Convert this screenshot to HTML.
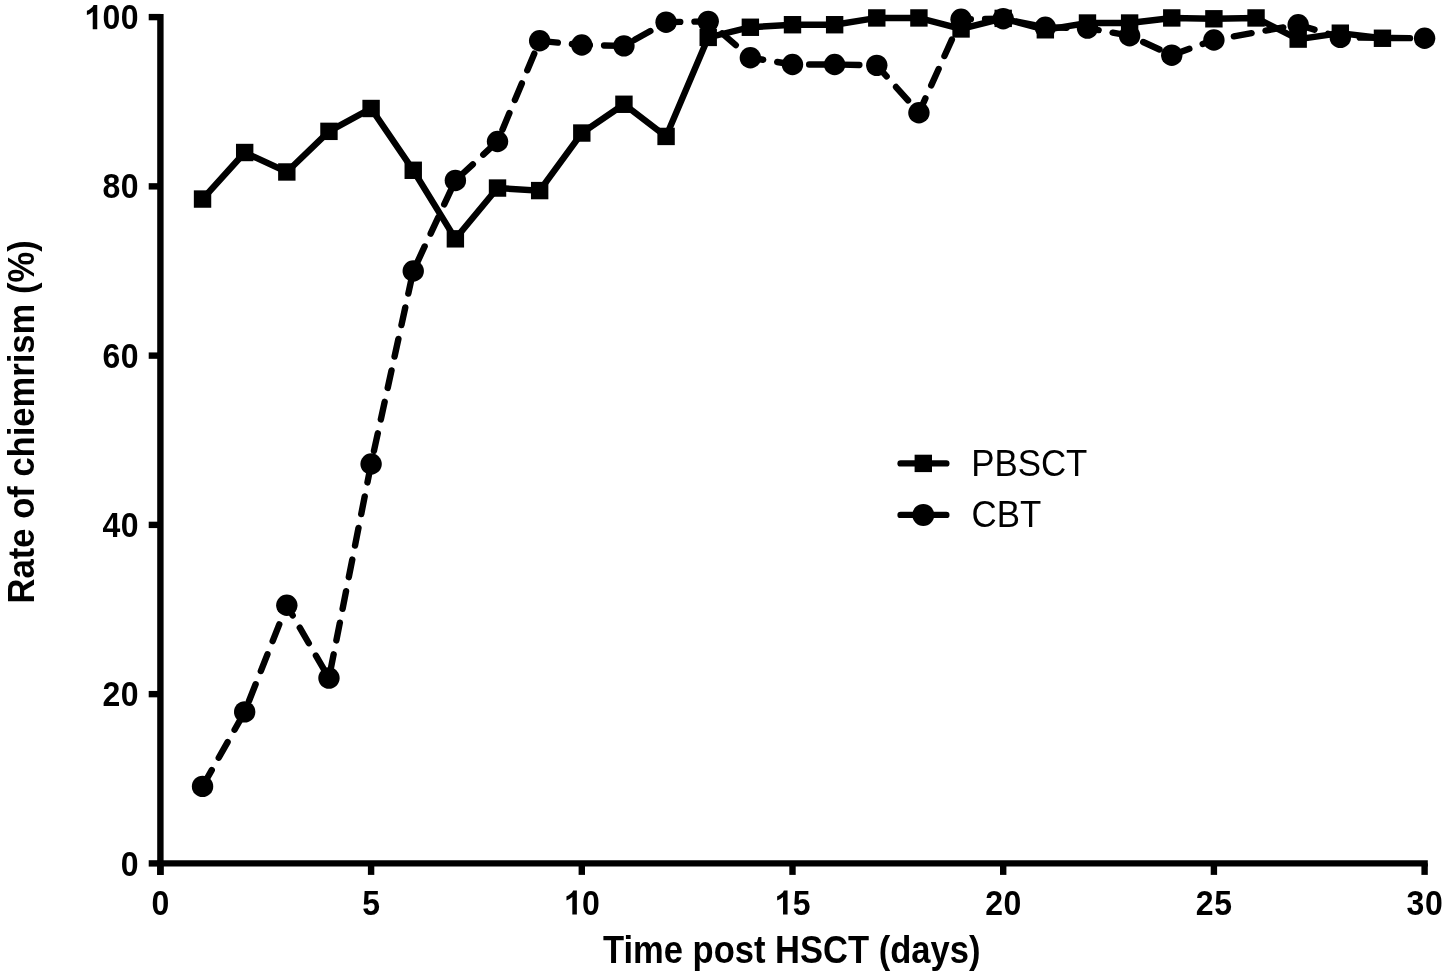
<!DOCTYPE html>
<html><head><meta charset="utf-8"><style>
html,body{margin:0;padding:0;background:#fff;width:1450px;height:979px;overflow:hidden}
svg{display:block;will-change:transform}
text{font-family:"Liberation Sans",sans-serif}
</style></head><body>
<svg width="1450" height="979" viewBox="0 0 1450 979">
<rect width="1450" height="979" fill="#fff"/>
<g stroke="#000" stroke-width="6.4" fill="none" stroke-linecap="butt"><path d="M160.40,13.90 V874.90" /><path d="M157.20,863.40 H1427.80" /><path d="M148.70,863.40 H160.40" /><path d="M148.70,694.14 H160.40" /><path d="M148.70,524.88 H160.40" /><path d="M148.70,355.62 H160.40" /><path d="M148.70,186.36 H160.40" /><path d="M148.70,17.10 H160.40" /><path d="M160.40,863.40 V874.90" /><path d="M371.10,863.40 V874.90" /><path d="M581.80,863.40 V874.90" /><path d="M792.50,863.40 V874.90" /><path d="M1003.20,863.40 V874.90" /><path d="M1213.90,863.40 V874.90" /><path d="M1424.60,863.40 V874.90" /></g>
<polyline points="202.54,199.05 244.68,152.51 286.82,171.97 328.96,131.35 371.10,108.50 413.24,170.28 455.38,238.83 497.52,188.05 539.66,190.59 581.80,133.04 623.94,104.27 666.08,136.43 708.22,37.41 750.36,27.26 792.50,24.72 834.64,24.72 876.78,17.95 918.92,17.95 961.06,28.95 1003.20,18.37 1045.34,29.79 1087.48,23.02 1129.62,23.02 1171.76,17.95 1213.90,18.79 1256.04,17.95 1298.18,39.10 1340.32,33.18 1382.46,38.26" fill="none" stroke="#000" stroke-width="6.4" stroke-linejoin="miter" /><polyline points="202.54,786.39 244.68,711.91 286.82,605.28 328.96,678.06 371.10,463.95 413.24,270.99 455.38,180.44 497.52,141.51 539.66,40.80 581.80,45.03 623.94,45.87 666.08,22.18 708.22,21.33 750.36,57.72 792.50,64.49 834.64,64.49 876.78,65.34 918.92,112.73 961.06,19.22 1003.20,18.79 1045.34,27.26 1087.48,28.10 1129.62,35.72 1171.76,55.18 1213.90,39.95 1298.18,24.72 1340.32,37.41 1424.60,38.26" fill="none" stroke="#000" stroke-width="6.4" stroke-dasharray="18 14.2" stroke-dashoffset="-0.7" stroke-linecap="round" stroke-linejoin="round" />
<g fill="#000"><rect x="193.84" y="190.35" width="17.4" height="17.4" /><rect x="235.98" y="143.81" width="17.4" height="17.4" /><rect x="278.12" y="163.27" width="17.4" height="17.4" /><rect x="320.26" y="122.65" width="17.4" height="17.4" /><rect x="362.40" y="99.80" width="17.4" height="17.4" /><rect x="404.54" y="161.58" width="17.4" height="17.4" /><rect x="446.68" y="230.13" width="17.4" height="17.4" /><rect x="488.82" y="179.35" width="17.4" height="17.4" /><rect x="530.96" y="181.89" width="17.4" height="17.4" /><rect x="573.10" y="124.34" width="17.4" height="17.4" /><rect x="615.24" y="95.57" width="17.4" height="17.4" /><rect x="657.38" y="127.73" width="17.4" height="17.4" /><rect x="699.52" y="28.71" width="17.4" height="17.4" /><rect x="741.66" y="18.56" width="17.4" height="17.4" /><rect x="783.80" y="16.02" width="17.4" height="17.4" /><rect x="825.94" y="16.02" width="17.4" height="17.4" /><rect x="868.08" y="9.25" width="17.4" height="17.4" /><rect x="910.22" y="9.25" width="17.4" height="17.4" /><rect x="952.36" y="20.25" width="17.4" height="17.4" /><rect x="994.50" y="9.67" width="17.4" height="17.4" /><rect x="1036.64" y="21.09" width="17.4" height="17.4" /><rect x="1078.78" y="14.32" width="17.4" height="17.4" /><rect x="1120.92" y="14.32" width="17.4" height="17.4" /><rect x="1163.06" y="9.25" width="17.4" height="17.4" /><rect x="1205.20" y="10.09" width="17.4" height="17.4" /><rect x="1247.34" y="9.25" width="17.4" height="17.4" /><rect x="1289.48" y="30.40" width="17.4" height="17.4" /><rect x="1331.62" y="24.48" width="17.4" height="17.4" /><rect x="1373.76" y="29.56" width="17.4" height="17.4" /><circle cx="202.54" cy="786.39" r="10.7" /><circle cx="244.68" cy="711.91" r="10.7" /><circle cx="286.82" cy="605.28" r="10.7" /><circle cx="328.96" cy="678.06" r="10.7" /><circle cx="371.10" cy="463.95" r="10.7" /><circle cx="413.24" cy="270.99" r="10.7" /><circle cx="455.38" cy="180.44" r="10.7" /><circle cx="497.52" cy="141.51" r="10.7" /><circle cx="539.66" cy="40.80" r="10.7" /><circle cx="581.80" cy="45.03" r="10.7" /><circle cx="623.94" cy="45.87" r="10.7" /><circle cx="666.08" cy="22.18" r="10.7" /><circle cx="708.22" cy="21.33" r="10.7" /><circle cx="750.36" cy="57.72" r="10.7" /><circle cx="792.50" cy="64.49" r="10.7" /><circle cx="834.64" cy="64.49" r="10.7" /><circle cx="876.78" cy="65.34" r="10.7" /><circle cx="918.92" cy="112.73" r="10.7" /><circle cx="961.06" cy="19.22" r="10.7" /><circle cx="1003.20" cy="18.79" r="10.7" /><circle cx="1045.34" cy="27.26" r="10.7" /><circle cx="1087.48" cy="28.10" r="10.7" /><circle cx="1129.62" cy="35.72" r="10.7" /><circle cx="1171.76" cy="55.18" r="10.7" /><circle cx="1213.90" cy="39.95" r="10.7" /><circle cx="1298.18" cy="24.72" r="10.7" /><circle cx="1340.32" cy="37.41" r="10.7" /><circle cx="1424.60" cy="38.26" r="10.7" /></g>
<g font-family="Liberation Sans, sans-serif" font-weight="bold" font-size="33.5" fill="#000"><text transform="translate(129.72,875.50) scale(0.955,1.05)" text-anchor="middle">0</text><text transform="translate(111.37,706.24) scale(0.955,1.05)" text-anchor="middle">2</text><text transform="translate(129.72,706.24) scale(0.955,1.05)" text-anchor="middle">0</text><text transform="translate(111.37,536.98) scale(0.955,1.05)" text-anchor="middle">4</text><text transform="translate(129.72,536.98) scale(0.955,1.05)" text-anchor="middle">0</text><text transform="translate(111.37,367.72) scale(0.955,1.05)" text-anchor="middle">6</text><text transform="translate(129.72,367.72) scale(0.955,1.05)" text-anchor="middle">0</text><text transform="translate(111.37,198.46) scale(0.955,1.05)" text-anchor="middle">8</text><text transform="translate(129.72,198.46) scale(0.955,1.05)" text-anchor="middle">0</text><path transform="translate(83.85,29.20) scale(0.016112,-0.016505)" d="M832 0L551 0L551 1059Q397 915 188 856L188 1111Q298 1147 427 1247Q556 1347 604 1466L832 1466Z"/><text transform="translate(111.37,29.20) scale(0.955,1.05)" text-anchor="middle">0</text><text transform="translate(129.72,29.20) scale(0.955,1.05)" text-anchor="middle">0</text><text transform="translate(160.40,914.60) scale(0.955,1.05)" text-anchor="middle">0</text><text transform="translate(371.10,914.60) scale(0.955,1.05)" text-anchor="middle">5</text><path transform="translate(563.45,914.60) scale(0.016112,-0.016505)" d="M832 0L551 0L551 1059Q397 915 188 856L188 1111Q298 1147 427 1247Q556 1347 604 1466L832 1466Z"/><text transform="translate(590.98,914.60) scale(0.955,1.05)" text-anchor="middle">0</text><path transform="translate(774.15,914.60) scale(0.016112,-0.016505)" d="M832 0L551 0L551 1059Q397 915 188 856L188 1111Q298 1147 427 1247Q556 1347 604 1466L832 1466Z"/><text transform="translate(801.68,914.60) scale(0.955,1.05)" text-anchor="middle">5</text><text transform="translate(994.02,914.60) scale(0.955,1.05)" text-anchor="middle">2</text><text transform="translate(1012.38,914.60) scale(0.955,1.05)" text-anchor="middle">0</text><text transform="translate(1204.72,914.60) scale(0.955,1.05)" text-anchor="middle">2</text><text transform="translate(1223.08,914.60) scale(0.955,1.05)" text-anchor="middle">5</text><text transform="translate(1415.42,914.60) scale(0.955,1.05)" text-anchor="middle">3</text><text transform="translate(1433.78,914.60) scale(0.955,1.05)" text-anchor="middle">0</text></g>
<text transform="translate(791.7,963) scale(0.976,1.07)" text-anchor="middle" font-family="Liberation Sans, sans-serif" font-weight="bold" font-size="35.4">Time post HSCT (days)</text><text transform="translate(34,421.85) rotate(-90) scale(0.977,1.05)" text-anchor="middle" font-family="Liberation Sans, sans-serif" font-weight="bold" font-size="35.4">Rate of chiemrism (%)</text>
<g stroke="#000" stroke-width="6.4" stroke-linecap="round" fill="none"><path d="M900.60,463.4 H946.30" /><path d="M900.60,514.9 H946.30" /></g><rect x="914.60" y="454.70" width="17.4" height="17.4" fill="#000"/><circle cx="923.3" cy="514.9" r="11.0" fill="#000"/><g font-family="Liberation Sans, sans-serif" font-size="35.4" fill="#000"><text transform="translate(971.2,475.6) scale(0.985,1.065)">PBSCT</text><text transform="translate(971.5,526.7) scale(0.985,1.065)">CBT</text></g>
</svg>
</body></html>
